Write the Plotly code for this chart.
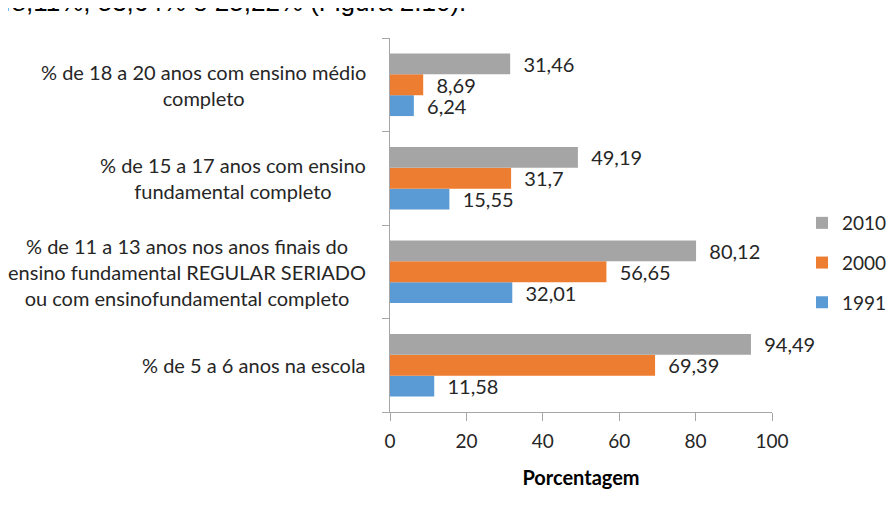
import plotly.graph_objects as go

categories = [
    "% de 5 a 6 anos na escola",
    "% de 11 a 13 anos nos anos finais do<br>ensino fundamental REGULAR SERIADO<br>ou com ensinofundamental completo",
    "% de 15 a 17 anos com ensino<br>fundamental completo",
    "% de 18 a 20 anos com ensino médio<br>completo",
]
cat_ids = ["c1", "c2", "c3", "c4"]
v1991 = [11.58, 32.01, 15.55, 6.24]
v2000 = [69.39, 56.65, 31.7, 8.69]
v2010 = [94.49, 80.12, 49.19, 31.46]
x_ticks = [0, 20, 40, 60, 80, 100]

FONT = "Lato, 'Open Sans', sans-serif"
TXT = "#262626"

def lab(v):
    return ["  " + str(x).replace(".", ",") for x in v]

fig = go.Figure()
for rank, name, vals, col in [(3, "1991", v1991, "#5B9BD5"), (2, "2000", v2000, "#ED7D31"), (1, "2010", v2010, "#A5A5A5")]:
    fig.add_trace(go.Bar(
        y=cat_ids, x=vals, name=name, orientation="h", legendgroup=name, legendrank=rank,
        marker=dict(color=col, line=dict(width=0)),
        text=lab(vals), textposition="outside", cliponaxis=False, constraintext="none",
        textfont=dict(family=FONT, size=20, color=TXT),
    ))

for cid, label in zip(cat_ids, categories):
    fig.add_annotation(x=-0.057, xref="paper", y=cid, yref="y", text=label,
                       showarrow=False, xanchor="right", yanchor="middle", align="center",
                       font=dict(family=FONT, size=20, color=TXT))

fig.add_annotation(x=-1.034, xref="paper", y=1.0, yref="paper", yshift=19,
                   text="48,11%, 53,64% e 25,22% (Figura 2.10).", showarrow=False,
                   xanchor="left", yanchor="bottom",
                   font=dict(family="Liberation Sans, Arial", size=26, color="#000000"))

fig.update_layout(
    width=887, height=492,
    margin=dict(l=382, r=123, t=30, b=88),
    paper_bgcolor="white", plot_bgcolor="white",
    barmode="group", bargap=0.33, bargroupgap=0,
    font=dict(family=FONT, size=19, color=TXT),
    legend=dict(traceorder="grouped", xref="container", yref="container",
                x=794 / 887, y=0.4817, xanchor="left", yanchor="middle",
                font=dict(family=FONT, size=19, color=TXT),
                itemwidth=30, tracegroupgap=12),
    showlegend=True,
)
fig.update_xaxes(range=[0, 100], tickvals=x_ticks, showgrid=False, zeroline=False,
                 showline=True, linecolor="#A6A6A6", linewidth=1,
                 ticks="outside", ticklen=8, tickcolor="#A6A6A6", ticklabelstandoff=4,
                 tickfont=dict(family=FONT, size=19, color=TXT),
                 title=dict(text="<b>Porcentagem</b>", font=dict(family=FONT, size=20, color="#000000"), standoff=20))
fig.update_yaxes(type="category", categoryorder="array", categoryarray=cat_ids,
                 showticklabels=False, showgrid=False, zeroline=False,
                 showline=True, linecolor="#A6A6A6", linewidth=1,
                 ticks="outside", ticklen=7, tickcolor="#A6A6A6", tickson="boundaries")

fig.write_html("out.html")
